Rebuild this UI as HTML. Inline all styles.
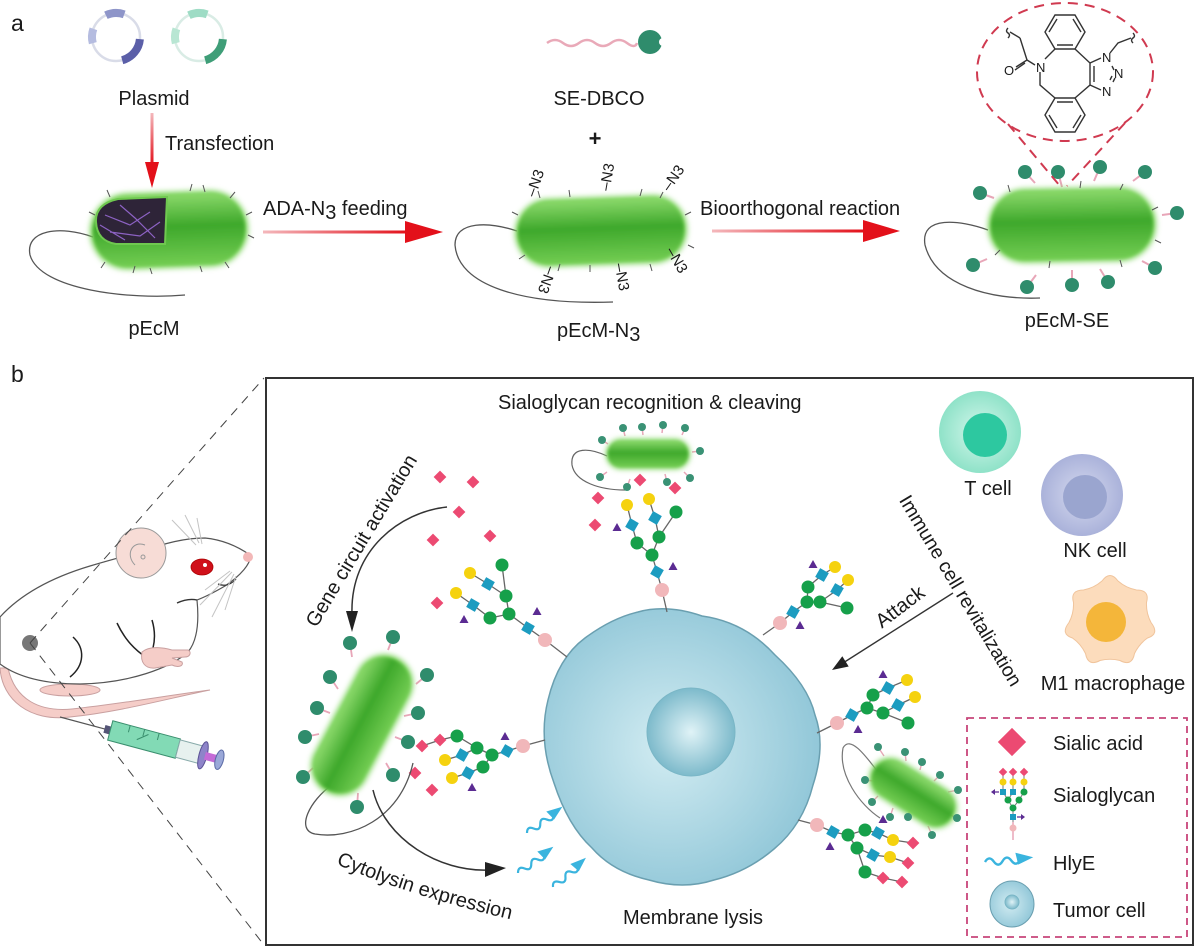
<!DOCTYPE html>
<html><head><meta charset="utf-8"><style>
html,body{margin:0;padding:0;background:#fff;}
svg{display:block;}
text{font-family:"Liberation Sans",Arial,sans-serif;fill:#1a1a1a;}
</style></head><body>
<svg width="1200" height="950" viewBox="0 0 1200 950" xmlns="http://www.w3.org/2000/svg">
<defs>
<linearGradient id="bg" x1="0" y1="0" x2="0" y2="1">
<stop offset="0" stop-color="#8ad86a"/><stop offset="0.45" stop-color="#3ea82b"/><stop offset="1" stop-color="#72cc52"/>
</linearGradient>
<linearGradient id="redg" x1="0" y1="0" x2="1" y2="0">
<stop offset="0" stop-color="#f4b8bc"/><stop offset="1" stop-color="#e3101a"/>
</linearGradient>
<linearGradient id="redv" x1="0" y1="0" x2="0" y2="1">
<stop offset="0" stop-color="#f4b8bc"/><stop offset="1" stop-color="#e3101a"/>
</linearGradient>
<radialGradient id="cellg" cx="0.45" cy="0.5" r="0.6">
<stop offset="0" stop-color="#d2ecf2"/><stop offset="1" stop-color="#8cc4d6"/>
</radialGradient>
<radialGradient id="nucg" cx="0.5" cy="0.5" r="0.5">
<stop offset="0" stop-color="#e0f3f7"/><stop offset="1" stop-color="#7dbacb"/>
</radialGradient>
<radialGradient id="tg" cx="0.5" cy="0.5" r="0.5">
<stop offset="0" stop-color="#d4f7ec"/><stop offset="1" stop-color="#8fe2c8"/>
</radialGradient>
<radialGradient id="nkg" cx="0.5" cy="0.5" r="0.5">
<stop offset="0" stop-color="#d6daef"/><stop offset="1" stop-color="#aab2da"/>
</radialGradient>
<filter id="soft" x="-30%" y="-60%" width="160%" height="220%"><feGaussianBlur stdDeviation="3"/></filter>
<filter id="soft2" x="-30%" y="-60%" width="160%" height="220%"><feGaussianBlur stdDeviation="1.5"/></filter>
<g id="D"><rect x="-4.5" y="-4.5" width="9" height="9" transform="rotate(45)" fill="#ec4a72"/></g>
<circle id="Y" r="6" fill="#f5d20f"/>
<g id="B"><rect x="-5" y="-5" width="10" height="10" transform="rotate(30)" fill="#1c9cc0"/></g>
<circle id="G" r="6.5" fill="#16a04a"/>
<polygon id="T" points="0,-5 4.5,3 -4.5,3" fill="#5b2b92"/>
<circle id="P" r="7" fill="#f1b7ba"/>
<circle id="H" r="7" fill="#2f8c6c"/>
<circle id="h" r="4" fill="#3a9275"/>
<g id="hly"><path d="M0,0 q4,-6 8,0 t8,0 t8,0 t8,0" fill="none" stroke="#3ab4de" stroke-width="2.2"/><polygon points="28,-7 44,-2 30,4" fill="#3ab4de"/></g>
</defs>

<!-- ============ PANEL A ============ -->
<text x="11" y="31" font-size="23">a</text>

<circle cx="116" cy="37" r="24" fill="none" stroke="#d9dce8" stroke-width="2.5"/>
<path d="M105.9,15.3 A24,24 0 0 1 124.2,14.4" fill="none" stroke="#8e95c9" stroke-width="8"/>
<path d="M92.8,43.2 A24,24 0 0 1 93.4,28.8" fill="none" stroke="#b5bce0" stroke-width="8"/>
<path d="M139.9,39.1 A24,24 0 0 1 122.2,60.2" fill="none" stroke="#5b5fa8" stroke-width="8"/>
<circle cx="199" cy="37" r="24" fill="none" stroke="#d9ece5" stroke-width="2.5"/>
<path d="M188.9,15.3 A24,24 0 0 1 207.2,14.4" fill="none" stroke="#9edcc5" stroke-width="8"/>
<path d="M175.8,43.2 A24,24 0 0 1 176.4,28.8" fill="none" stroke="#b8e6d3" stroke-width="8"/>
<path d="M222.9,39.1 A24,24 0 0 1 205.2,60.2" fill="none" stroke="#3f9e78" stroke-width="8"/>
<text x="154" y="105" font-size="20" text-anchor="middle">Plasmid</text>

<rect x="150.5" y="113" width="3" height="52" fill="url(#redv)"/>
<polygon points="145,162 159,162 152,188" fill="#e3101a"/>
<text x="165" y="150" font-size="20">Transfection</text>

<path d="M93,237 C60,225 25,230 30,255 C40,290 130,300 185,295" fill="none" stroke="#555" stroke-width="1.3"/>
<g transform="translate(169,230) rotate(-2)">
<rect x="-79" y="-38" width="158" height="76" rx="38" fill="#7cd45c" filter="url(#soft)"/>
<rect x="-76" y="-35" width="152" height="70" rx="35" fill="url(#bg)" filter="url(#soft2)"/>
</g>
<path d="M167,197 L118,199 Q95,204 96,222 Q97,241 116,244 L165,244 Z" fill="#2e2438" stroke="#6fc850" stroke-width="2"/>
<path d="M105,215 L130,225 L150,212 M110,232 L140,236 L160,222 M120,205 L135,218 L155,238 M100,225 L125,240" fill="none" stroke="#8d62c4" stroke-width="1.2"/>
<path d="M110,197 L107,190 M190,191 L192,184 M205,192 L203,185 M230,198 L235,192 M246,215 L252,212 M248,235 L254,238 M105,262 L101,268 M135,266 L133,273 M150,268 L152,274 M200,266 L202,272 M225,262 L229,268 M95,215 L89,212" stroke="#555" stroke-width="1"/>
<text x="154" y="335" font-size="20" text-anchor="middle">pEcM</text>

<rect x="263" y="230.5" width="145" height="3" fill="url(#redg)"/>
<polygon points="405,221 443,232 405,243" fill="#e3101a"/>
<text x="263" y="215" font-size="20">ADA-N<tspan dy="4">3</tspan><tspan dy="-4"> feeding</tspan></text>

<path d="M547,43 q8,-6 16,0 t16,0 t16,0 t16,0 t16,0 t10,0" fill="none" stroke="#e9a9b8" stroke-width="2.5"/>
<circle cx="650" cy="42" r="12" fill="#2f8c6c"/>
<circle cx="663" cy="42" r="4" fill="#fff"/>
<text x="599" y="105" font-size="20" text-anchor="middle">SE-DBCO</text>
<text x="595" y="146" font-size="22" font-weight="bold" text-anchor="middle">+</text>

<path d="M517,231 C490,222 455,220 455,245 C458,285 520,305 613,302" fill="none" stroke="#555" stroke-width="1.3"/>
<g transform="translate(601,231) rotate(-2)">
<rect x="-86" y="-34" width="172" height="68" rx="34" fill="#7cd45c" filter="url(#soft)"/>
<rect x="-83" y="-31" width="166" height="62" rx="31" fill="url(#bg)" filter="url(#soft2)"/>
</g>
<path d="M540,198 L538,191 M570,197 L569,190 M640,196 L642,189 M660,198 L663,192 M685,215 L691,212 M688,245 L694,248 M525,255 L519,259 M560,264 L558,271 M590,265 L590,272 M650,264 L652,271 M518,215 L512,212" stroke="#555" stroke-width="1"/>
<g font-size="15">
<text transform="translate(535,183) rotate(-70)" text-anchor="middle" dy="5">–N3</text>
<text transform="translate(607,177) rotate(-80)" text-anchor="middle" dy="5">–N3</text>
<text transform="translate(673,178) rotate(-55)" text-anchor="middle" dy="5">–N3</text>
<text transform="translate(677,260) rotate(60)" text-anchor="middle" dy="5">–N3</text>
<text transform="translate(622,277) rotate(80)" text-anchor="middle" dy="5">–N3</text>
<text transform="translate(547,280) rotate(110)" text-anchor="middle" dy="5">–N3</text>
</g>
<text x="557" y="337" font-size="20">pEcM-N<tspan dy="4">3</tspan></text>

<rect x="712" y="229.5" width="152" height="3" fill="url(#redg)"/>
<polygon points="863,220 900,231 863,242" fill="#e3101a"/>
<text x="700" y="215" font-size="20">Bioorthogonal reaction</text>

<path d="M988,230 C960,220 920,215 925,245 C935,285 990,300 1040,298" fill="none" stroke="#555" stroke-width="1.3"/>
<g stroke="#e8a6b8" stroke-width="2" fill="none">
<path d="M1025,172 L1035,183 M1058,172 L1062,187 M1100,167 L1094,181 M1145,172 L1133,181 M980,193 L994,198 M1177,213 L1162,215 M973,265 L987,259 M1027,287 L1036,275 M1072,285 L1072,270 M1108,282 L1100,269 M1155,268 L1142,261"/>
</g>
<g transform="translate(1072,225) rotate(-1)">
<rect x="-84" y="-37" width="168" height="74" rx="37" fill="#7cd45c" filter="url(#soft)"/>
<rect x="-81" y="-34" width="162" height="68" rx="34" fill="url(#bg)" filter="url(#soft2)"/>
</g>
<path d="M1010,192 L1008,185 M1080,188 L1081,181 M1120,190 L1123,184 M1152,210 L1158,207 M1155,240 L1161,243 M1000,250 L995,255 M1050,261 L1049,268 M1120,260 L1122,267" stroke="#555" stroke-width="1"/>
<g>
<use href="#H" x="1025" y="172"/><use href="#H" x="1058" y="172"/><use href="#H" x="1100" y="167"/><use href="#H" x="1145" y="172"/>
<use href="#H" x="980" y="193"/><use href="#H" x="1177" y="213"/><use href="#H" x="973" y="265"/><use href="#H" x="1027" y="287"/>
<use href="#H" x="1072" y="285"/><use href="#H" x="1108" y="282"/><use href="#H" x="1155" y="268"/>
</g>
<text x="1067" y="327" font-size="20" text-anchor="middle">pEcM-SE</text>

<g fill="none" stroke="#d03a50" stroke-width="2" stroke-dasharray="10 7">
<ellipse cx="1065" cy="72" rx="88" ry="69"/>
<path d="M1008,124 L1060,186 M1125,123 L1067,186"/>
</g>
<g fill="none" stroke="#333" stroke-width="1.4">
<polygon points="1085,32 1075,49 1055,49 1045,32 1055,15 1075,15"/>
<path d="M1049,32 L1057,19 M1073,19 L1081,32 M1073,45 L1057,45"/>
<polygon points="1085,115 1075,132 1055,132 1045,115 1055,98 1075,98"/>
<path d="M1049,115 L1057,128 M1073,128 L1081,115 M1057,102 L1073,102"/>
<path d="M1055,49 L1045,59 M1040,72 L1040,85 L1055,98 M1075,98 L1090,85 L1090,63 L1075,49"/>
<path d="M1094,82 L1094,66"/>
<path d="M1090,63 L1101,58 M1090,85 L1101,90 M1112,66 L1114,70 M1113,82 L1115,78 M1110,80 L1112,76"/>
<path d="M1110,53 L1118,43 L1131,38"/>
<path d="M1035,65 L1027,60 L1020,38 M1027,60 L1016,67 M1025,63 L1015,70"/>
<path d="M1020,38 L1010,32 M1008,28 q-3,3 0,5 t0,5" />
<path d="M1133,33 q3,3 0,5 t0,5"/>
</g>
<g font-size="13">
<text x="1036" y="72">N</text>
<text x="1004" y="75">O</text>
<text x="1102" y="62">N</text>
<text x="1114" y="78">N</text>
<text x="1102" y="96">N</text>
</g>

<!-- ============ PANEL B ============ -->
<text x="11" y="382" font-size="23">b</text>

<path d="M0,668 C2,700 30,722 70,717 C120,712 170,698 210,690 C170,695 120,704 72,709 C40,712 15,700 8,668 Z" fill="#f5cdc8" stroke="#c9a0a0" stroke-width="1"/>
<ellipse cx="70" cy="690" rx="30" ry="6" fill="#f5cdc8" stroke="#c9a0a0" stroke-width="1"/>
<path d="M0,617 C20,595 50,578 90,566 C110,560 125,556 140,552 C165,543 185,538 205,538 C225,540 240,548 250,555 C252,563 240,576 225,586 C213,593 205,597 197,600 C199,620 198,640 188,652 C170,668 130,683 80,684 C40,684 15,675 0,664 Z" fill="#fff" stroke="#555" stroke-width="1.2"/>
<circle cx="141" cy="553" r="25" fill="#f7dcd6" stroke="#999" stroke-width="1"/>
<path d="M135,565 C125,555 132,540 145,545" fill="none" stroke="#999" stroke-width="1"/>
<circle cx="143" cy="557" r="2" fill="none" stroke="#999"/>
<circle cx="248" cy="557" r="5" fill="#f3b8b8"/>
<ellipse cx="202" cy="567" rx="11" ry="8" fill="#d0101a" stroke="#a00" stroke-width="0.8"/>
<circle cx="205" cy="565" r="2" fill="#fff"/>
<path d="M218,584 Q228,588 236,579" fill="none" stroke="#333" stroke-width="1.3"/>
<path d="M177,603 Q188,598 197,600" fill="none" stroke="#333" stroke-width="1.4"/>
<path d="M73,637 C85,648 85,665 70,677" fill="none" stroke="#222" stroke-width="1.5"/>
<path d="M117,623 C125,640 135,650 147,658" fill="none" stroke="#222" stroke-width="1.5"/>
<path d="M152,620 C155,630 155,640 153,648" fill="none" stroke="#222" stroke-width="1.5"/>
<path d="M142,652 C150,645 165,648 172,650 L188,650 C192,652 190,657 185,657 L172,658 L182,662 C184,666 178,668 172,665 L155,668 C145,669 140,662 142,652Z" fill="#f5cdc8" stroke="#c9a0a0" stroke-width="1"/>
<path d="M196,545 L172,520 M199,543 L185,515 M202,544 L197,518 M232,572 L200,605 M234,574 L212,617 M236,576 L225,610 M230,571 L205,590" stroke="#c4c4c4" stroke-width="1" fill="none"/>
<circle cx="30" cy="643" r="8" fill="#777"/>
<g transform="translate(60,717) rotate(15)">
<line x1="0" y1="0" x2="48" y2="0" stroke="#555" stroke-width="1.2"/>
<rect x="46" y="-4" width="6" height="8" fill="#557"/>
<rect x="52" y="-10" width="70" height="20" fill="#82dab5" stroke="#3a8f6e" stroke-width="1"/>
<path d="M70,-10 L70,-3 M85,-10 L85,-3 M100,-10 L100,-3 M80,2 L90,-6" stroke="#3a8f6e" stroke-width="1"/>
<rect x="122" y="-9" width="24" height="18" fill="#e7f1ef" stroke="#8aa" stroke-width="1"/>
<ellipse cx="148" cy="0" rx="4" ry="14" fill="#8e84c9" stroke="#5a5295"/>
<rect x="150" y="-4" width="12" height="8" fill="#c46bd6"/>
<ellipse cx="165" cy="0" rx="4" ry="10" fill="#9aa8d8" stroke="#5a6aa5"/>
</g>
<path d="M30,643 L264,378 M30,643 L264,945" stroke="#444" stroke-width="1" stroke-dasharray="9 7" fill="none"/>

<rect x="266" y="378" width="927" height="567" fill="none" stroke="#333" stroke-width="2"/>

<text x="498" y="409" font-size="20">Sialoglycan recognition &amp; cleaving</text>

<path d="M702,616 Q745,622 775,655 Q808,685 815,715 Q826,745 813,785 Q803,825 774,849 Q747,872 714,880 Q683,890 649,880 Q613,872 592,848 Q568,826 554,783 Q538,740 548,700 Q558,658 585,638 Q612,618 638,612 Q667,604 702,616 Z" fill="url(#cellg)" stroke="#6a9fb0" stroke-width="1.5"/>
<circle cx="691" cy="732" r="44" fill="url(#nucg)" stroke="#7ab6c6" stroke-width="1"/>

<g stroke="#666" stroke-width="1.3" fill="none">
<path d="M627,505L632,525L637,543L652,555L657,572L662,590L667,612 M649,499L655,518L659,537L652,555 M676,512L659,537"/>
<path d="M502,565L506,596L509,614 M470,573L488,584L506,596 M456,593L473,605L490,618L509,614L528,628L545,640L567,657"/>
<path d="M422,746L440,740L457,736L477,748L492,755L507,751L523,746L545,740 M445,760L462,755L477,748 M452,778L468,773L483,767L492,755"/>
<path d="M763,635L780,623L793,612L807,602L808,587L822,575L835,567 M807,602L820,602L837,590L848,580 M820,602L847,608"/>
<path d="M817,733L837,723L852,715L867,708L873,695L888,688L907,680 M867,708L883,713L898,705L915,697 M883,713L908,723"/>
<path d="M798,820L817,825L833,832L848,835L865,830L878,833L893,840L913,843 M848,835L857,848L873,855L890,857L908,863 M857,848L865,872L883,878L902,882"/>
</g>
<use href="#Y" x="627" y="505"/><use href="#Y" x="649" y="499"/><use href="#B" x="632" y="525"/><use href="#B" x="655" y="518"/>
<use href="#G" x="676" y="512"/><use href="#G" x="637" y="543"/><use href="#G" x="659" y="537"/><use href="#G" x="652" y="555"/>
<use href="#B" x="657" y="572"/><use href="#T" x="617" y="528"/><use href="#T" x="673" y="567"/><use href="#P" x="662" y="590"/>
<use href="#G" x="502" y="565"/><use href="#Y" x="470" y="573"/><use href="#B" x="488" y="584"/><use href="#Y" x="456" y="593"/>
<use href="#G" x="506" y="596"/><use href="#B" x="473" y="605"/><use href="#G" x="490" y="618"/><use href="#G" x="509" y="614"/>
<use href="#T" x="464" y="620"/><use href="#T" x="537" y="612"/><use href="#B" x="528" y="628"/><use href="#P" x="545" y="640"/>
<use href="#D" x="422" y="746"/><use href="#D" x="440" y="740"/><use href="#G" x="457" y="736"/><use href="#Y" x="445" y="760"/>
<use href="#B" x="462" y="755"/><use href="#G" x="477" y="748"/><use href="#G" x="492" y="755"/><use href="#B" x="507" y="751"/>
<use href="#T" x="505" y="737"/><use href="#P" x="523" y="746"/><use href="#Y" x="452" y="778"/><use href="#B" x="468" y="773"/>
<use href="#G" x="483" y="767"/><use href="#T" x="472" y="788"/>
<use href="#D" x="415" y="773"/><use href="#D" x="432" y="790"/>
<use href="#P" x="780" y="623"/><use href="#B" x="793" y="612"/><use href="#T" x="800" y="626"/><use href="#G" x="807" y="602"/>
<use href="#G" x="820" y="602"/><use href="#G" x="808" y="587"/><use href="#B" x="822" y="575"/><use href="#Y" x="835" y="567"/>
<use href="#B" x="837" y="590"/><use href="#Y" x="848" y="580"/><use href="#G" x="847" y="608"/><use href="#T" x="813" y="565"/>
<use href="#P" x="837" y="723"/><use href="#B" x="852" y="715"/><use href="#T" x="858" y="730"/><use href="#G" x="867" y="708"/>
<use href="#G" x="873" y="695"/><use href="#B" x="888" y="688"/><use href="#T" x="883" y="675"/><use href="#Y" x="907" y="680"/>
<use href="#G" x="883" y="713"/><use href="#B" x="898" y="705"/><use href="#Y" x="915" y="697"/><use href="#G" x="908" y="723"/>
<use href="#P" x="817" y="825"/><use href="#B" x="833" y="832"/><use href="#T" x="830" y="847"/><use href="#G" x="848" y="835"/>
<use href="#G" x="865" y="830"/><use href="#B" x="878" y="833"/><use href="#T" x="883" y="820"/><use href="#Y" x="893" y="840"/>
<use href="#D" x="913" y="843"/><use href="#G" x="857" y="848"/><use href="#B" x="873" y="855"/><use href="#Y" x="890" y="857"/>
<use href="#D" x="908" y="863"/><use href="#G" x="865" y="872"/><use href="#D" x="883" y="878"/><use href="#D" x="902" y="882"/>
<use href="#D" x="440" y="477"/><use href="#D" x="473" y="482"/><use href="#D" x="459" y="512"/><use href="#D" x="433" y="540"/>
<use href="#D" x="490" y="536"/><use href="#D" x="437" y="603"/><use href="#D" x="640" y="480"/><use href="#D" x="675" y="488"/>
<use href="#D" x="598" y="498"/><use href="#D" x="595" y="525"/>

<path d="M607,456 C590,448 570,446 572,465 C575,482 600,490 625,490" fill="none" stroke="#666" stroke-width="1.2"/>
<path d="M602,440 L608,444 M623,428 L625,436 M642,427 L643,435 M663,425 L662,433 M685,428 L682,435 M700,451 L692,452 M690,478 L684,472 M667,482 L665,474 M627,487 L630,479 M600,477 L607,472" stroke="#e8a6b8" stroke-width="1.5"/>
<g transform="translate(648,454)">
<rect x="-42" y="-15" width="84" height="30" rx="15" fill="#7cd45c" filter="url(#soft)"/>
<rect x="-40" y="-13" width="80" height="26" rx="13" fill="url(#bg)" filter="url(#soft2)"/>
</g>
<use href="#h" x="602" y="440"/><use href="#h" x="623" y="428"/><use href="#h" x="642" y="427"/><use href="#h" x="663" y="425"/><use href="#h" x="685" y="428"/>
<use href="#h" x="700" y="451"/><use href="#h" x="690" y="478"/><use href="#h" x="667" y="482"/><use href="#h" x="627" y="487"/><use href="#h" x="600" y="477"/>

<path d="M332,785 C310,800 295,830 315,834 C350,840 400,820 413,763" fill="none" stroke="#555" stroke-width="1.3"/>
<path d="M350,643 L352,657 M393,637 L388,650 M330,677 L338,689 M427,675 L416,684 M317,708 L330,713 M418,713 L404,716 M305,737 L319,734 M408,742 L395,737 M303,777 L313,768 M393,775 L386,763 M357,807 L358,793" stroke="#e8a6b8" stroke-width="1.8"/>
<g transform="translate(362,725) rotate(-62)">
<rect x="-76" y="-29" width="152" height="58" rx="29" fill="#7cd45c" filter="url(#soft)"/>
<rect x="-73" y="-26" width="146" height="52" rx="26" fill="url(#bg)" filter="url(#soft2)"/>
</g>
<use href="#H" x="350" y="643"/><use href="#H" x="393" y="637"/><use href="#H" x="330" y="677"/><use href="#H" x="427" y="675"/>
<use href="#H" x="317" y="708"/><use href="#H" x="418" y="713"/><use href="#H" x="305" y="737"/><use href="#H" x="408" y="742"/>
<use href="#H" x="303" y="777"/><use href="#H" x="393" y="775"/><use href="#H" x="357" y="807"/>

<path d="M878,772 C865,755 850,735 843,748 C838,775 860,805 880,818" fill="none" stroke="#777" stroke-width="1.2"/>
<path d="M878,747 L884,756 M905,752 L906,761 M922,762 L920,770 M940,775 L934,781 M958,790 L948,792 M957,818 L948,814 M932,835 L928,826 M908,817 L910,808 M890,817 L893,808 M872,802 L878,796 M865,780 L874,781" stroke="#e8a6b8" stroke-width="1.4"/>
<g transform="translate(913,793) rotate(32)">
<rect x="-48" y="-21" width="96" height="42" rx="21" fill="#7cd45c" filter="url(#soft)"/>
<rect x="-45" y="-18" width="90" height="36" rx="18" fill="url(#bg)" filter="url(#soft2)"/>
</g>
<use href="#h" x="878" y="747"/><use href="#h" x="905" y="752"/><use href="#h" x="922" y="762"/><use href="#h" x="940" y="775"/>
<use href="#h" x="958" y="790"/><use href="#h" x="957" y="818"/><use href="#h" x="932" y="835"/><use href="#h" x="908" y="817"/>
<use href="#h" x="890" y="817"/><use href="#h" x="872" y="802"/><use href="#h" x="865" y="780"/>

<use href="#hly" transform="translate(527,833) rotate(-34)"/>
<use href="#hly" transform="translate(518,873) rotate(-34)"/>
<use href="#hly" transform="translate(553,887) rotate(-39)"/>

<path d="M447,507 C400,512 350,550 352,614" fill="none" stroke="#333" stroke-width="1.5"/>
<polygon points="346,611 358,611 352,632" fill="#222"/>
<text transform="translate(367,544) rotate(-59)" font-size="20" text-anchor="middle">Gene circuit activation</text>

<path d="M373,790 C385,840 440,872 488,870" fill="none" stroke="#333" stroke-width="1.5"/>
<polygon points="485,862 506,868 485,877" fill="#222"/>
<path id="cytop" d="M336,864 Q414,898 535,925" fill="none"/>
<text font-size="20"><textPath href="#cytop">Cytolysin expression</textPath></text>

<text transform="translate(955,594) rotate(59)" font-size="19.5" text-anchor="middle">Immune cell revitalization</text>
<text transform="translate(904,612) rotate(-37)" font-size="20" text-anchor="middle">Attack</text>
<line x1="953" y1="593" x2="843" y2="663" stroke="#333" stroke-width="1.4"/>
<polygon points="832,670 848.7,666.5 842.3,656.3" fill="#222"/>

<text x="623" y="924" font-size="20">Membrane lysis</text>

<circle cx="980" cy="432" r="41" fill="url(#tg)"/>
<circle cx="985" cy="435" r="22" fill="#2dc8a0"/>
<text x="988" y="495" font-size="20" text-anchor="middle">T cell</text>
<circle cx="1082" cy="495" r="41" fill="url(#nkg)"/>
<circle cx="1085" cy="497" r="22" fill="#9aa5cf"/>
<text x="1095" y="557" font-size="20" text-anchor="middle">NK cell</text>
<path d="M1102,581 Q1110,570 1118,581 Q1126,588 1136.5,590 Q1150,590 1146.5,602.5 Q1146,613 1151,622.5 Q1160,634 1147.5,638 Q1139,644 1134.5,653.5 Q1132,667 1120,660.5 Q1110,658 1100,660.5 Q1088,667 1085.5,653.5 Q1081,644 1072.5,638 Q1060,634 1069,622.5 Q1074,613 1073.5,602.5 Q1070,590 1083.5,590 Q1094,588 1102,581 Z" fill="#fcdcbc" stroke="#f0c49c" stroke-width="1"/>
<circle cx="1106" cy="622" r="20" fill="#f4b63a"/>
<text x="1113" y="690" font-size="20" text-anchor="middle">M1 macrophage</text>

<rect x="967" y="718" width="220" height="219" fill="none" stroke="#c8457a" stroke-width="1.8" stroke-dasharray="7 5"/>
<rect x="1002" y="732" width="20" height="20" transform="rotate(45 1012 742)" fill="#ec4a72"/>
<text x="1053" y="750" font-size="20">Sialic acid</text>
<g>
<path d="M1003,772 L1003,792 L1008,800 L1013,808 L1013,838 M1013,772 L1013,792 L1008,800 M1024,772 L1024,792 L1019,800 L1013,808" stroke="#777" stroke-width="1" fill="none"/>
<path d="M1013,822 L1013,840" stroke="#e8a6b8" stroke-width="1.5"/>
<rect x="1000" y="769" width="6" height="6" transform="rotate(45 1003 772)" fill="#ec4a72"/>
<rect x="1010" y="769" width="6" height="6" transform="rotate(45 1013 772)" fill="#ec4a72"/>
<rect x="1021" y="769" width="6" height="6" transform="rotate(45 1024 772)" fill="#ec4a72"/>
<circle cx="1003" cy="782" r="3.5" fill="#f5d20f"/><circle cx="1013" cy="782" r="3.5" fill="#f5d20f"/><circle cx="1024" cy="782" r="3.5" fill="#f5d20f"/>
<rect x="1000" y="789" width="6" height="6" fill="#1c9cc0"/><rect x="1010" y="789" width="6" height="6" fill="#1c9cc0"/><circle cx="1024" cy="792" r="3.5" fill="#16a04a"/>
<circle cx="1008" cy="800" r="3.5" fill="#16a04a"/><circle cx="1019" cy="800" r="3.5" fill="#16a04a"/>
<circle cx="1013" cy="808" r="3.5" fill="#16a04a"/>
<rect x="1010" y="814" width="6" height="6" fill="#1c9cc0"/>
<circle cx="1013" cy="828" r="3.5" fill="#f1b7ba"/>
<path d="M993,792 L999,792 M1017,817 L1023,817" stroke="#5b2b92" stroke-width="1.2"/>
<polygon points="991,792 995,789 995,795" fill="#5b2b92"/><polygon points="1025,817 1021,814 1021,820" fill="#5b2b92"/>
</g>
<text x="1053" y="802" font-size="20">Sialoglycan</text>
<use href="#hly" transform="translate(985,862) rotate(-3) scale(1.1)"/>
<text x="1053" y="870" font-size="20">HlyE</text>
<ellipse cx="1012" cy="904" rx="22" ry="23" fill="url(#cellg)" stroke="#6a9fb0" stroke-width="1"/>
<circle cx="1012" cy="902" r="7" fill="url(#nucg)" stroke="#7ab6c6" stroke-width="1"/>
<text x="1053" y="917" font-size="20">Tumor cell</text>
</svg>
</body></html>
